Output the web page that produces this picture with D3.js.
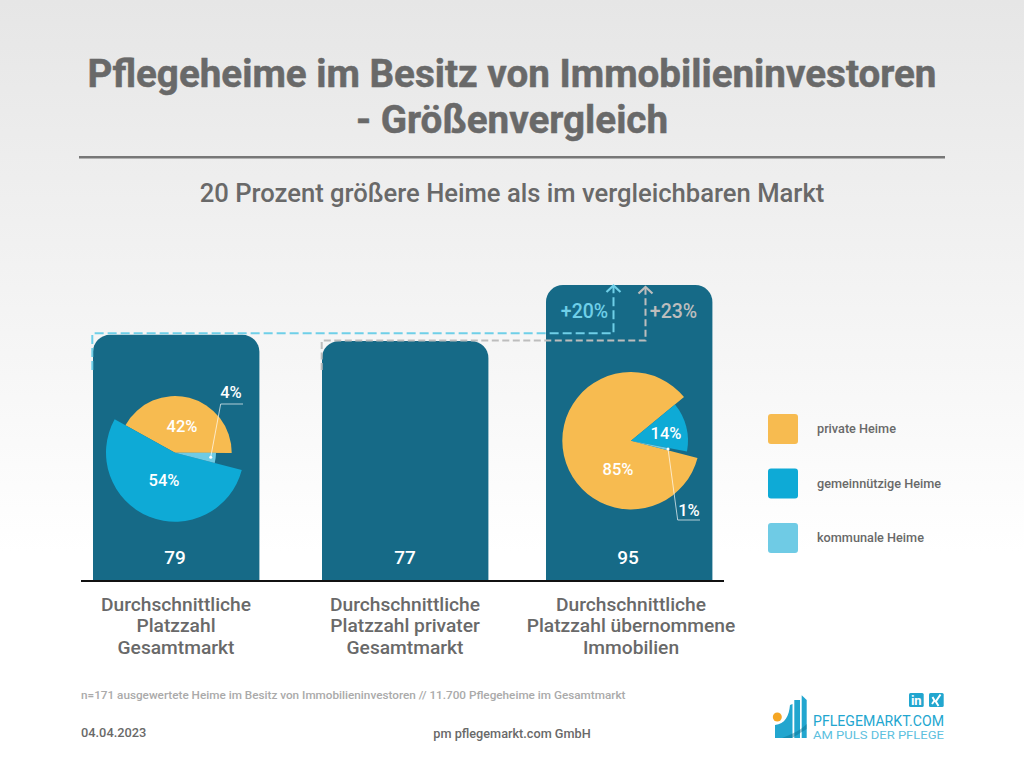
<!DOCTYPE html>
<html>
<head>
<meta charset="utf-8">
<script src="https://cdnjs.cloudflare.com/ajax/libs/d3/7.8.5/d3.min.js"></script>
<style>
  html, body { margin: 0; padding: 0; background: #fff; }
  svg { display: block; }
  text { font-family: Roboto, sans-serif; }
</style>
</head>
<body>
<svg id="chart"></svg>
<script>
const categories = ["gesamt", "privat", "immobilien"];
const seats = [79, 77, 95];
const categoryLabels = [
  ["Durchschnittliche", "Platzzahl", "Gesamtmarkt"],
  ["Durchschnittliche", "Platzzahl privater", "Gesamtmarkt"],
  ["Durchschnittliche", "Platzzahl übernommene", "Immobilien"]
];
const legendLabels = ["private Heime", "gemeinnützige Heime", "kommunale Heime"];
const sharesGesamt = [42, 54, 4];
const sharesImmobilien = [85, 14, 1];
const deltas = ["+20%", "+23%"];

const width = 1024, height = 768;
const grey = "#696969", barColor = "#166a87";
const orange = "#f7bb50", blue = "#0eaad6", lightBlue = "#6fcbe5";
const sliceColors = [orange, blue, lightBlue];
const cyanLine = "#6fcfe8", greyLine = "#bdbdbd";
const logoBlue = "#22a6cf";

const svg = d3.select("#chart").attr("width", width).attr("height", height);

// background fades from grey to white
const grad = svg.append("defs").append("linearGradient")
  .attr("id", "bg").attr("x1", 0).attr("x2", 0).attr("y1", 0).attr("y2", 1);
grad.append("stop").attr("offset", 0).attr("stop-color", "#e6e6e6");
grad.append("stop").attr("offset", 0.72).attr("stop-color", "#ffffff");
svg.append("rect").attr("width", width).attr("height", height).attr("fill", "url(#bg)");

// header
svg.selectAll(".title")
  .data(["Pflegeheime im Besitz von Immobilieninvestoren", "- Größenvergleich"])
  .enter().append("text")
  .attr("x", 512)
  .attr("y", (d, i) => 87 + i * 46)
  .attr("text-anchor", "middle")
  .attr("font-size", 38.6)
  .attr("font-weight", 700)
  .attr("fill", grey)
  .attr("stroke", grey)
  .attr("stroke-width", 0.5)
  .text(d => d);
svg.append("line").attr("x1", 79).attr("x2", 945).attr("y1", 157.3).attr("y2", 157.3)
  .attr("stroke", "#777").attr("stroke-width", 2.5);
svg.append("text").attr("x", 512).attr("y", 202).attr("text-anchor", "middle")
  .attr("font-size", 25.6).attr("font-weight", 500).attr("fill", grey)
  .text("20 Prozent größere Heime als im vergleichbaren Markt");

// bars
const x = d3.scaleOrdinal().domain(categories).range([93, 322, 546]);
const barWidth = 166.4;
const y = d3.scaleLinear().domain([0, 95]).range([581, 285]);
const corner = 17;

function barPath(left, top, bottom) {
  const p = d3.path();
  p.moveTo(left, bottom);
  p.lineTo(left, top + corner);
  p.arcTo(left, top, left + corner, top, corner);
  p.lineTo(left + barWidth - corner, top);
  p.arcTo(left + barWidth, top, left + barWidth, top + corner, corner);
  p.lineTo(left + barWidth, bottom);
  p.closePath();
  return p.toString();
}

svg.selectAll(".bar")
  .data(categories)
  .enter().append("path")
  .attr("class", "bar")
  .attr("fill", barColor)
  .attr("d", (d, i) => barPath(x(d), y(seats[i]), y(0)));

svg.append("line").attr("x1", 81).attr("x2", 724).attr("y1", y(0)).attr("y2", y(0))
  .attr("stroke", "#111").attr("stroke-width", 2);

const valueCenters = [175, 405, 628];
svg.selectAll(".value")
  .data(seats)
  .enter().append("text")
  .attr("x", (d, i) => valueCenters[i])
  .attr("y", 564)
  .attr("text-anchor", "middle")
  .attr("font-size", 19)
  .attr("font-weight", 500)
  .attr("fill", "#fff")
  .text(d => d);

const labelCenters = [176, 405, 631];
categoryLabels.forEach((lines, i) => {
  svg.selectAll(".cat" + i)
    .data(lines)
    .enter().append("text")
    .attr("x", labelCenters[i])
    .attr("y", (d, j) => 611 + j * 21.3)
    .attr("text-anchor", "middle")
    .attr("font-size", 19.2)
    .attr("font-weight", 500)
    .attr("fill", grey)
    .text(d => d);
});

// pies, every slice has its own radius
const deg = Math.PI / 180;
function drawPie(conf) {
  const g = svg.append("g").attr("transform", `translate(${conf.cx},${conf.cy})`);
  const pie = d3.pie().value(d => d.value)
    .sort((a, b) => conf.order.indexOf(a.i) - conf.order.indexOf(b.i))
    .startAngle(conf.start * deg)
    .endAngle((conf.start + 360) * deg);
  const slices = pie(conf.shares.map((value, i) => ({ value, i })));
  const arc = d3.arc().innerRadius(0).outerRadius(d => conf.radii[d.data.i]);
  g.selectAll("path")
    .data(slices)
    .enter().append("path")
    .attr("fill", d => sliceColors[d.data.i])
    .attr("d", arc);
  conf.shares.forEach((v, i) => {
    g.append("text")
      .attr("x", conf.labels[i][0])
      .attr("y", conf.labels[i][1])
      .attr("text-anchor", "middle")
      .attr("dominant-baseline", "central")
      .attr("font-size", 16.5)
      .attr("font-weight", 500)
      .attr("fill", "#fff")
      .text(v + "%");
  });
  // leader to the small slice
  const small = slices.find(d => d.data.i === 2);
  const mid = (small.startAngle + small.endAngle) / 2;
  const dot = [conf.dotR * Math.sin(mid), -conf.dotR * Math.cos(mid)];
  g.append("path")
    .attr("fill", "none").attr("stroke", "#fff").attr("stroke-width", 0.8).attr("stroke-opacity", 0.85)
    .attr("d", d3.line()([dot, ...conf.leader]));
  g.append("circle").attr("cx", dot[0]).attr("cy", dot[1]).attr("r", 1.5).attr("fill", "#fff");
}

drawPie({
  cx: 175, cy: 452.7, shares: sharesGesamt, order: [0, 2, 1], start: -61,
  radii: [56.7, 69, 41], dotR: 36,
  labels: [[7, -26.5], [-11, 28], [56, -60]],
  leader: [[45.7, -48.7], [68, -48.7]]
});
drawPie({
  cx: 631, cy: 440.7, shares: sharesImmobilien, order: [1, 2, 0], start: 50.5,
  radii: [68.7, 57, 38], dotR: 38,
  labels: [[-13, 28.5], [35, -7], [58, 69.5]],
  leader: [[46.7, 79.3], [69, 79.3]]
});

// dashed increase markers, drawn from the bar tops
const dashed = [
  { color: cyanLine, dash: "9 4", pts: [[x("gesamt") - 0.7, 370], [x("gesamt") - 0.7, y(seats[0]) - 1.5], [613.5, y(seats[0]) - 1.5], [613.5, 287]], tip: 285.5, label: deltas[0], lx: 584.5 },
  { color: greyLine, dash: "7 3.5", pts: [[x("privat") - 0.3, 370], [x("privat") - 0.3, y(seats[1]) - 0.5], [645.5, y(seats[1]) - 0.5], [645.5, 288]], tip: 287, label: deltas[1], lx: 673.5 }
];
dashed.forEach(d => {
  svg.append("path")
    .attr("fill", "none").attr("stroke", d.color).attr("stroke-width", 2)
    .attr("stroke-dasharray", d.dash)
    .attr("d", d3.line()(d.pts));
  const ax = d.pts[3][0];
  svg.append("path")
    .attr("fill", "none").attr("stroke", d.color).attr("stroke-width", 2.2)
    .attr("d", d3.line()([[ax - 7, d.tip + 6.5], [ax, d.tip], [ax + 7, d.tip + 6.5]]));
  svg.append("text").attr("x", d.lx).attr("y", 318).attr("text-anchor", "middle")
    .attr("font-size", 19.5).attr("font-weight", 500).attr("fill", d.color)
    .text(d.label);
});

// legend
const legendY = d3.scalePoint().domain(legendLabels).range([414, 523]);
const legend = svg.selectAll(".legend")
  .data(legendLabels)
  .enter().append("g")
  .attr("transform", d => `translate(768,${legendY(d)})`);
legend.append("rect").attr("width", 30).attr("height", 30).attr("rx", 3)
  .attr("fill", (d, i) => sliceColors[i]);
legend.append("text").attr("x", 49).attr("y", 19).attr("font-size", 12.7)
  .attr("font-weight", 500).attr("fill", grey).text(d => d);

// footer
svg.append("text").attr("x", 81).attr("y", 699).attr("font-size", 11.74).attr("font-weight", 500)
  .attr("fill", "#aaaaaa")
  .text("n=171 ausgewertete Heime im Besitz von Immobilieninvestoren // 11.700 Pflegeheime im Gesamtmarkt");
svg.append("text").attr("x", 81).attr("y", 737).attr("font-size", 12.8).attr("font-weight", 500)
  .attr("fill", grey).text("04.04.2023");
svg.append("text").attr("x", 512).attr("y", 738).attr("text-anchor", "middle").attr("font-size", 12.7)
  .attr("font-weight", 500).attr("fill", grey).text("pm pflegemarkt.com GmbH");

// logo
const logo = svg.append("g");
logo.append("circle").attr("cx", 777.3).attr("cy", 717).attr("r", 4.5).attr("fill", "#f5a623");
logo.append("path").attr("fill", logoBlue)
  .attr("d", "M775 725 C785 724 789 716 790 705 L792.500 704 L792.500 738 L775 738 Z");
logo.append("path").attr("fill", logoBlue).attr("d", "M794.300 700 L800 700 L800 738 L794.300 738 Z");
logo.append("path").attr("fill", logoBlue).attr("d", "M801.700 695.300 L806.700 700 L806.700 738 L801.700 738 Z");
logo.append("path").attr("fill", "#0c6f8f").attr("opacity", 0.45)
  .attr("d", "M782 738 C790 735 800 731 806.700 724 L806.700 729 C800 733 796 736 792 738 Z");
logo.append("text").attr("x", 813).attr("y", 726).attr("font-family", "'Liberation Serif', serif")
  .attr("font-size", 14.5).attr("fill", logoBlue).attr("textLength", 131).attr("lengthAdjust", "spacingAndGlyphs")
  .text("PFLEGEMARKT.COM");
logo.append("text").attr("x", 813).attr("y", 739).attr("font-family", "'Liberation Serif', serif")
  .attr("font-size", 11).attr("fill", "#5cc0de").attr("textLength", 131).attr("lengthAdjust", "spacingAndGlyphs")
  .text("AM PULS DER PFLEGE");
logo.append("rect").attr("x", 909).attr("y", 693).attr("width", 14.7).attr("height", 14).attr("rx", 1.5).attr("fill", logoBlue);
logo.append("text").attr("x", 916.3).attr("y", 705).attr("text-anchor", "middle").attr("font-size", 13).attr("font-weight", 700)
  .attr("fill", "#fff").text("in");
logo.append("rect").attr("x", 929).attr("y", 693).attr("width", 14.7).attr("height", 14).attr("rx", 1.5).attr("fill", logoBlue);
// xing mark
logo.append("path").attr("fill", "none").attr("stroke", "#fff").attr("stroke-width", 2)
  .attr("d", "M932.500 697 L934.500 700.500 L932 704 M940.500 694.500 L935.800 701.500 L938.500 706");
</script>
</body>
</html>
